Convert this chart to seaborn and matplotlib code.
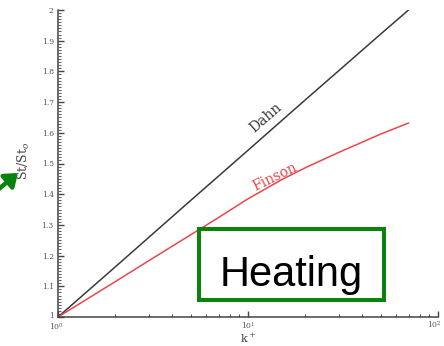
import numpy as np
import pandas as pd
import matplotlib
matplotlib.use("Agg")
import matplotlib.pyplot as plt
import matplotlib.ticker as mticker
import matplotlib.transforms as mtransforms
from matplotlib.patches import Rectangle
import seaborn as sns

# Heat-transfer ratio versus roughness Reynolds number
k_plus = [1, 2, 3, 5, 7, 10, 15, 20, 30, 50, 70]
dahn = [1.0, 1.163, 1.259, 1.38, 1.459, 1.543, 1.639, 1.707, 1.802, 1.922, 2.0]
finson = [1.0, 1.115, 1.183, 1.268, 1.324, 1.385, 1.447, 1.486, 1.536, 1.596, 1.632]
series_names = ["Dahn", "Finson"]
y_ticks = [1.0, 1.1, 1.2, 1.3, 1.4, 1.5, 1.6, 1.7, 1.8, 1.9, 2.0]
y_tick_labels = ["1", "1.1", "1.2", "1.3", "1.4", "1.5", "1.6", "1.7", "1.8", "1.9", "2"]
x_ticks = [1, 10, 100]
x_tick_labels = ["10$^0$", "10$^1$", "10$^2$"]

df = pd.concat([
    pd.DataFrame({"k": k_plus, "ratio": dahn, "model": series_names[0]}),
    pd.DataFrame({"k": k_plus, "ratio": finson, "model": series_names[1]}),
])

sns.set_theme(style="white")
plt.rcParams["font.family"] = ["DejaVu Serif"]
plt.rcParams["mathtext.fontset"] = "dejavuserif"

W, H = 444, 346
fig = plt.figure(figsize=(W / 100, H / 100), dpi=100)
ax = fig.add_axes([58 / W, 1 - 317 / H, 380 / W, 307 / H])

line_colors = {"Dahn": "#3a3a3a", "Finson": "#e8474c"}
sns.lineplot(data=df, x="k", y="ratio", hue="model", palette=line_colors,
             ax=ax, legend=False, linewidth=1.1, estimator=None, sort=True)

ax.set_xscale("log")
ax.set_xlim(1, 100)
ax.set_ylim(1, 2)

axis_col = "#444444"
for side in ["top", "right"]:
    ax.spines[side].set_visible(False)
for side in ["left", "bottom"]:
    ax.spines[side].set_color(axis_col)
    ax.spines[side].set_linewidth(1.1)

ax.set_yticks(y_ticks)
ax.set_yticklabels(y_tick_labels)
ax.yaxis.set_minor_locator(mticker.MultipleLocator(0.01))
ax.set_xticks(x_ticks)
ax.set_xticklabels(x_tick_labels)
ax.xaxis.set_minor_locator(mticker.LogLocator(base=10, subs=np.arange(2, 10)))
ax.xaxis.set_minor_formatter(mticker.NullFormatter())

ax.tick_params(axis="both", which="both", direction="in", colors=axis_col,
               labelcolor="#555555", labelsize=5.5, pad=3)
ax.tick_params(axis="x", which="major", pad=2)
ax.tick_params(axis="y", which="major", length=4, width=1.0, left=True)
ax.tick_params(axis="y", which="minor", length=2, width=0.6, left=True)
ax.tick_params(axis="x", which="major", length=4.5, width=1.0, bottom=True)
ax.tick_params(axis="x", which="minor", length=2.2, width=0.7, bottom=True)


def nudge(label, dx_px, dy_px):
    label.set_transform(label.get_transform() + mtransforms.ScaledTranslation(
        dx_px / 100, dy_px / 100, fig.dpi_scale_trans))


# keep the corner labels apart and the last decade label on the canvas
nudge(ax.get_xticklabels()[-1], -4, 0)
nudge(ax.get_xticklabels()[0], -2, -1.5)
nudge(ax.get_yticklabels()[0], 0, 2)

ax.set_xlabel("k$^+$", fontsize=8, color="#444444")
ax.xaxis.set_label_coords(190 / 380, -15 / 307)
ax.set_ylabel("St/St$_o$", fontsize=9, color="#444444", va="center")
ax.yaxis.set_label_coords(-34 / 380, (317 - 161) / 307)

ax.text(12.4, 1.648, "Dahn", rotation=41, color="#3a3a3a", fontsize=10,
        ha="center", va="center")
ax.text(13.9, 1.456, "Finson", rotation=26, color="#e8474c", fontsize=10,
        ha="center", va="center")

green = "#0b820b"
# Framed caption
fig.patches.append(Rectangle((199, H - 300), 185, 71, transform=None,
                             fill=True, facecolor="white", edgecolor=green,
                             linewidth=2.9, figure=fig))
fig.text(291.5 / W, (H - 286) / H, "Heating", family="Liberation Sans",
         fontsize=30, color="black", ha="center", va="baseline")

# Pointer toward the axis title
ax.annotate("", xy=(18, H - 173), xycoords="figure pixels",
            xytext=(-6, H - 193), textcoords="figure pixels",
            arrowprops=dict(arrowstyle="-|>,head_length=0.6,head_width=0.45",
                            color=green, lw=3.2, shrinkA=0, shrinkB=0),
            annotation_clip=False)

fig.savefig("out.png", dpi=100)
